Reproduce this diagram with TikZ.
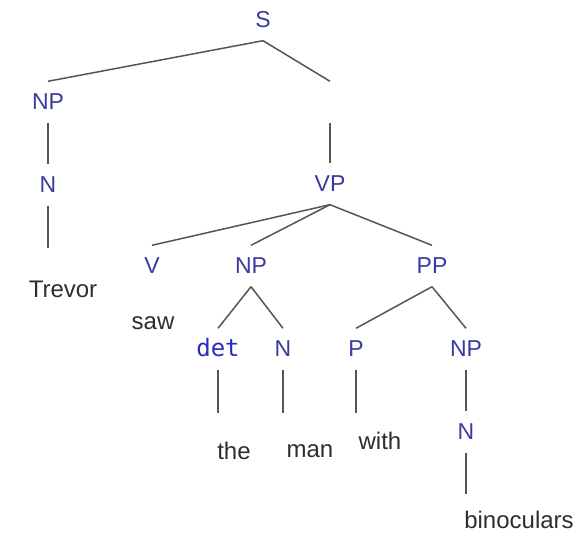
\documentclass[tikz,border=0pt]{standalone}
\usepackage{fontspec}
\setmainfont{Liberation Sans}
\newfontfamily\detfont{DejaVu Sans Mono}
\definecolor{TreeBlue}{HTML}{3A3AA0}
\definecolor{TreeDet}{HTML}{2A2AC8}
\definecolor{TreeInk}{HTML}{2E2E2E}
\definecolor{TreeLine}{HTML}{555555}
\tikzset{
  cat/.style={text=TreeBlue, font=\fontsize{23pt}{26pt}\selectfont, inner sep=0pt,
              text height=16pt, text depth=0pt, minimum height=41pt},
  word/.style={text=TreeInk, font=\fontsize{24pt}{28pt}\selectfont, inner sep=0pt,
               text height=17pt, text depth=0pt, anchor=base},
  branch/.style={draw=TreeLine, line width=1.5pt},
}

\begin{document}
\begin{tikzpicture}[x=1pt, y=-1pt]
    \path[fill=white, use as bounding box] (0,0) rectangle (579,537);
    \node[cat] (s) at (263,20) {S};
    \node[cat] (np1) at (48,102) {NP};
    \node[cat] (gap) at (330,102) {};
    \node[cat] (n1) at (48,185) {N};
    \node[cat] (vp) at (330,184) {VP};
    \node[cat] (v) at (152,266) {V};
    \node[cat] (np2) at (251,266) {NP};
    \node[cat] (pp) at (432,266) {PP};
    \node[cat, font=\detfont\fontsize{24pt}{26pt}\selectfont, text=TreeDet] (det) at (218,349) {det};
    \node[cat] (n2) at (283,349) {N};
    \node[cat] (p) at (356,349) {P};
    \node[cat] (np3) at (466,349) {NP};
    \node[cat] (n3) at (466,432) {N};
    \node[word] (trevor) at (63,298) {Trevor};
    \node[word] (saw) at (153,330) {saw};
    \node[word] (the) at (234,460) {the};
    \node[word] (man) at (310,458) {man};
    \node[word] (with) at (380,450) {with};
    \node[word] (bino) at (519,529) {binoculars};
    \draw[branch] (s.south) -- (np1.north); \draw[branch] (s.south) -- (gap.north);
    \draw[branch] (np1) -- (n1); \draw[branch] (gap) -- (vp);
    \draw[branch, shorten >=33pt] (n1.south) -- (n1.south |- trevor.north);
    \draw[branch] (vp.south) -- (v.north); \draw[branch] (vp.south) -- (np2.north); \draw[branch] (vp.south) -- (pp.north);
    \draw[branch] (np2.south) -- (det.north); \draw[branch] (np2.south) -- (n2.north);
    \draw[branch] (pp.south) -- (p.north); \draw[branch] (pp.south) -- (np3.north);
    \draw[branch, shorten >=30pt] (det.south) -- (det.south |- the.north);
    \draw[branch, shorten >=28pt] (n2.south) -- (n2.south |- man.north);
    \draw[branch, shorten >=20pt] (p.south) -- (p.south |- with.north);
    \draw[branch] (np3) -- (n3);
    \draw[branch, shorten >=18pt] (n3.south) -- (n3.south |- bino.north);
\end{tikzpicture}
\end{document}
